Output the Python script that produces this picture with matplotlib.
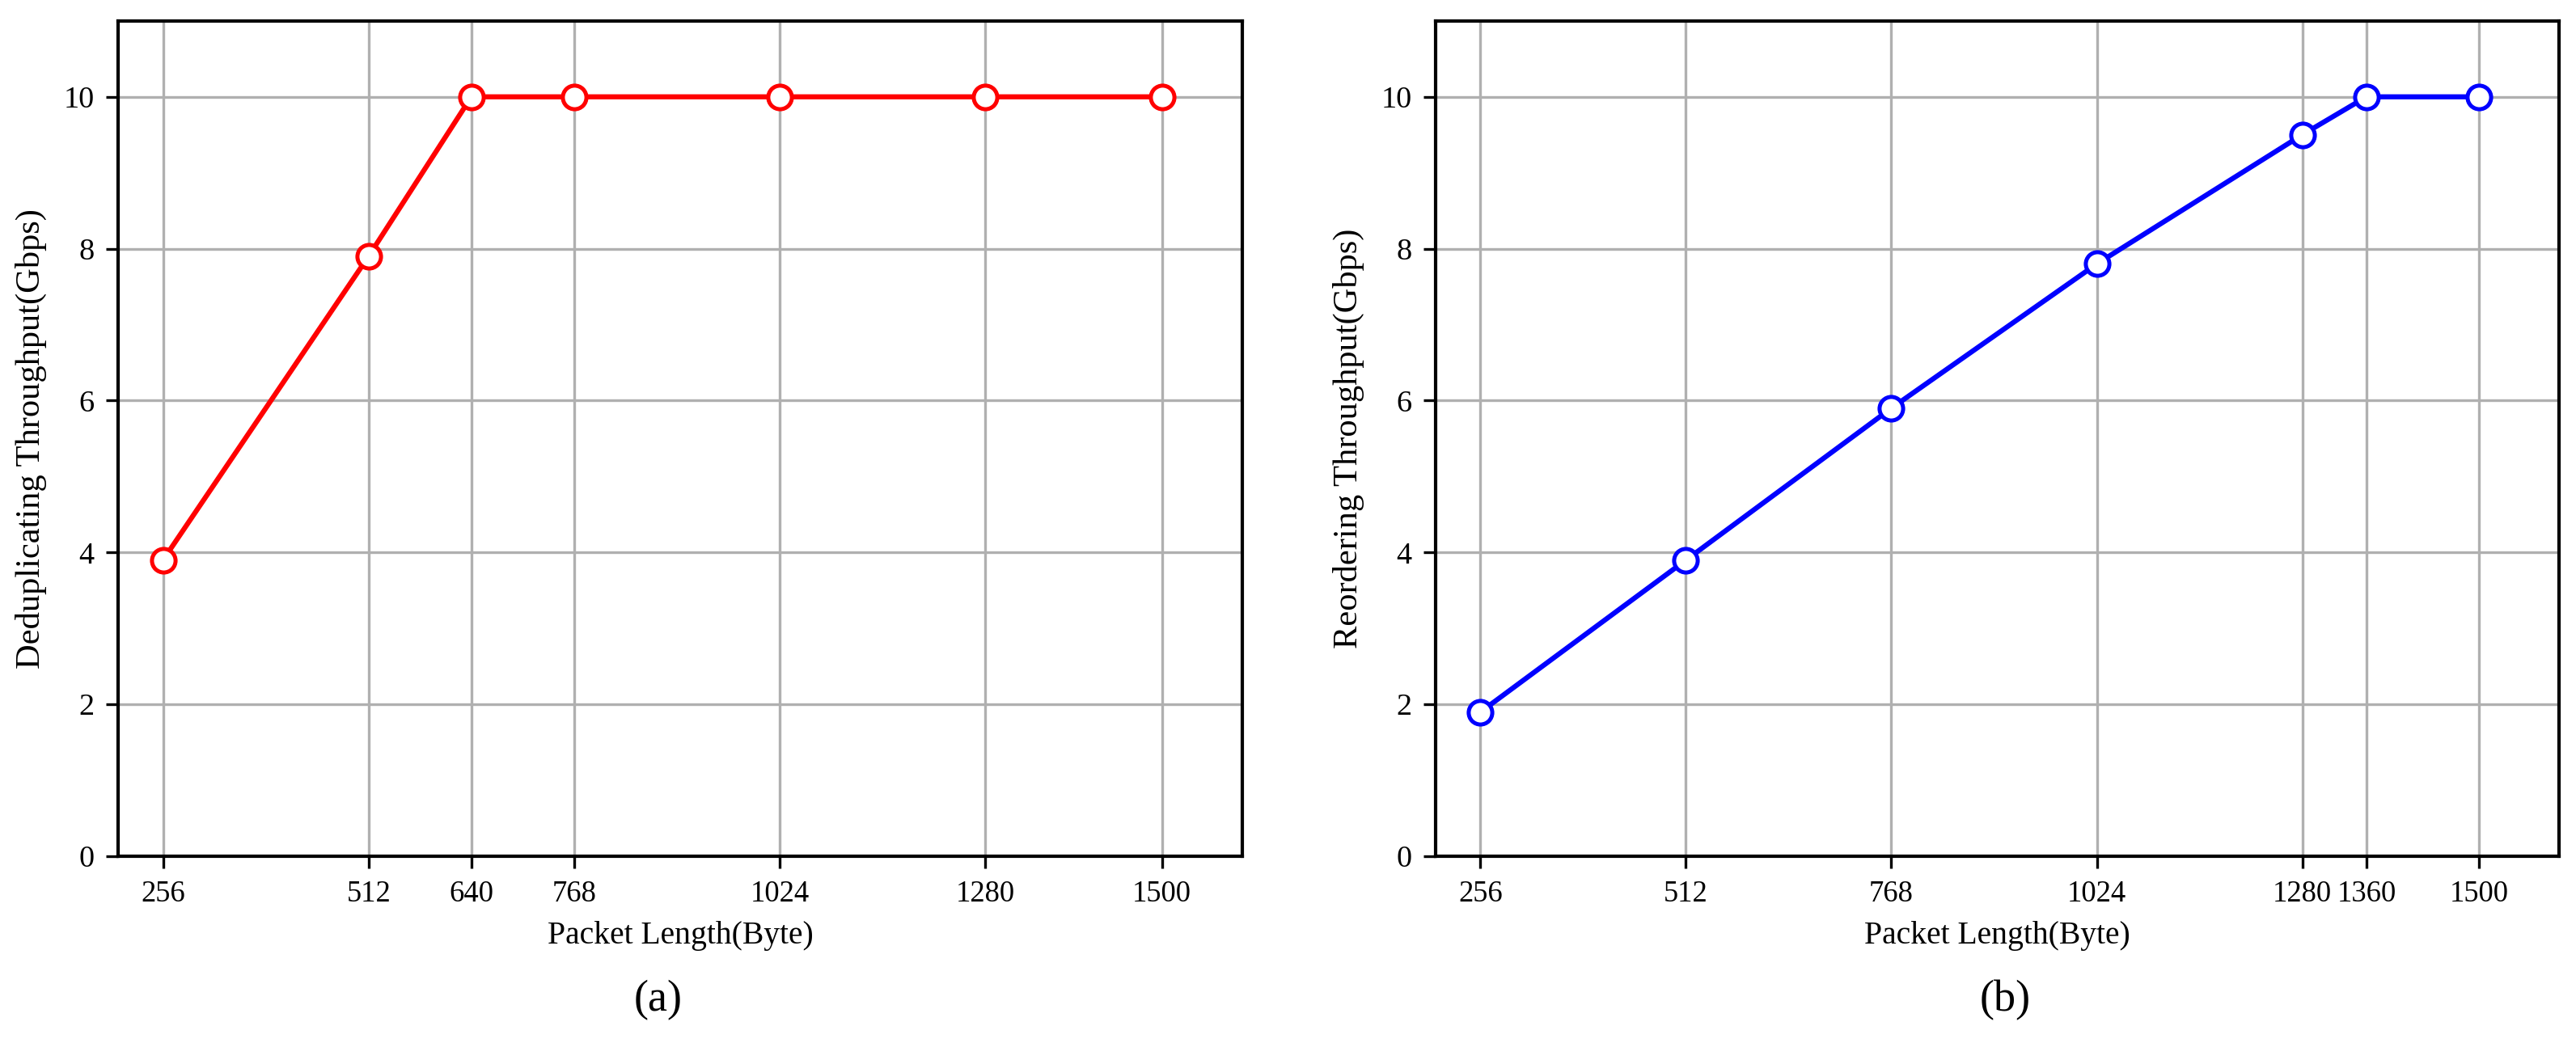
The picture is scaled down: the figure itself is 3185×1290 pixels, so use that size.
import numpy as np
import matplotlib.pyplot as plt

plt.rcParams['font.family'] = ['Liberation Serif', 'DejaVu Serif']
plt.rcParams['font.size'] = 10

# (a) deduplicating throughput
dedup_len = [256, 512, 640, 768, 1024, 1280, 1500]
dedup_tput = [3.9, 7.9, 10, 10, 10, 10, 10]

# (b) reordering throughput
reord_len = [256, 512, 768, 1024, 1280, 1360, 1500]
reord_tput = [1.9, 3.9, 5.9, 7.8, 9.5, 10, 10]

yticks = [0, 2, 4, 6, 8, 10]

fig = plt.figure(figsize=(10.62, 4.3), dpi=300)
ax1 = fig.add_axes([0.0458, 0.179, 0.4363, 0.801])
ax2 = fig.add_axes([0.5571, 0.179, 0.4360, 0.801])


def draw(ax, x, y, color, ylabel):
    ax.plot(x, y, color=color, linewidth=1.5, marker='o', markersize=7,
            markerfacecolor='white', markeredgecolor=color, markeredgewidth=1.2,
            zorder=3)
    ax.set_xlim(200, 1600)
    ax.set_ylim(0, 11)
    ax.set_xticks(x)
    ax.set_yticks(yticks)
    ax.tick_params(axis='x', labelsize=8.8)
    ax.tick_params(axis='y', labelsize=9.2)
    ax.grid(True, color='#b0b0b0', linewidth=0.8)
    ax.set_xlabel('Packet Length(Byte)', fontsize=9.5, labelpad=4)
    ax.set_ylabel(ylabel, fontsize=10.2, labelpad=5)
    for s in ax.spines.values():
        s.set_linewidth(1.0)


draw(ax1, dedup_len, dedup_tput, '#ff0000', 'Deduplicating Throughput(Gbps)')
draw(ax2, reord_len, reord_tput, '#0000ff', 'Reordering Throughput(Gbps)')

fig.text(814 / 3186, 1 - 1237 / 1290, '(a)', ha='center', va='center', fontsize=13)
fig.text(2479 / 3186, 1 - 1237 / 1290, '(b)', ha='center', va='center', fontsize=13)

fig.savefig('out.png', dpi=300)
